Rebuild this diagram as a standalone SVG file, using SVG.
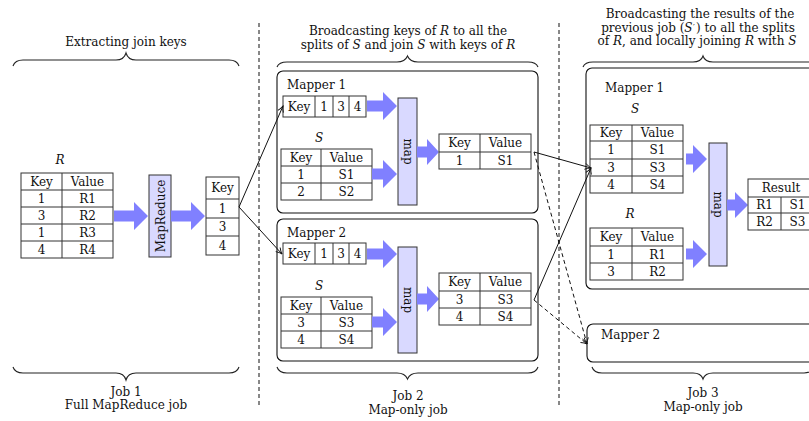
<svg xmlns="http://www.w3.org/2000/svg" width="809" height="421" viewBox="0 0 809 421">
<style>
text{font-family:"DejaVu Serif","Liberation Serif",serif;font-size:12px;fill:#111;}
.c{text-anchor:middle;}
.i{font-style:italic;}
.cell{fill:#fff;stroke:#333;stroke-width:1;}
.ln{stroke:#333;stroke-width:1;fill:none;}
.mapbox{fill:#d9d9ff;stroke:#333;stroke-width:1;}
.fat{fill:#8080ff;}
.brace{fill:none;stroke:#222;stroke-width:1.1;}
.mapper{fill:#fff;stroke:#111;stroke-width:1.1;}
.sep{stroke:#111;stroke-width:1;stroke-dasharray:4 3;fill:none;}
.con{stroke:#111;stroke-width:1;fill:none;}
.dcon{stroke:#111;stroke-width:1;fill:none;stroke-dasharray:4 3;}
</style>
<defs>
<marker id="ah" markerWidth="8" markerHeight="8" refX="7" refY="4" orient="auto" markerUnits="userSpaceOnUse">
<path d="M1,1 Q4,3.2 7,4 Q4,4.8 1,7" fill="none" stroke="#111" stroke-width="0.9"/>
</marker>
</defs>

<!-- separators -->
<g id="separators">
<line class="sep" x1="259" y1="23" x2="259" y2="407"/>
<line class="sep" x1="559" y1="23" x2="559" y2="405"/>
</g>

<!-- Job 1 -->
<g id="job1-header">
<text class="c" x="126" y="46">Extracting join keys</text>
<path class="brace" d="M13,66 Q15,60 23,60 L116,60 Q124,60 126,53 Q128,60 136,60 L229,60 Q237,60 239,66"/>
</g>
<g id="job1-R">
<text class="c i" x="60" y="164">R</text>
<rect class="cell" x="21" y="173" width="92" height="85"/>
<path class="ln" d="M62,173V258M21,190H113M21,207H113M21,224H113M21,241H113"/>
<text class="c" x="41.5" y="186">Key</text><text class="c" x="87.5" y="186">Value</text>
<text class="c" x="41.5" y="203">1</text><text class="c" x="87.5" y="203">R1</text>
<text class="c" x="41.5" y="220">3</text><text class="c" x="87.5" y="220">R2</text>
<text class="c" x="41.5" y="237">1</text><text class="c" x="87.5" y="237">R3</text>
<text class="c" x="41.5" y="254">4</text><text class="c" x="87.5" y="254">R4</text>
</g>
<g id="job1-mapreduce">
<polygon class="fat" points="114,210.5 134,210.5 134,202 148,216 134,230 134,221.5 114,221.5"/>
<rect class="mapbox" x="149" y="175" width="22" height="82"/>
<text class="c" transform="translate(164.5,216) rotate(-90)">MapReduce</text>
<polygon class="fat" points="171,210.5 191,210.5 191,202 205,216 191,230 191,221.5 171,221.5"/>
</g>
<g id="job1-keys">
<rect class="cell" x="206" y="177" width="33" height="78"/>
<path class="ln" d="M206,199H239M206,218H239M206,236H239"/>
<text class="c" x="222.5" y="192">Key</text>
<text class="c" x="222.5" y="213">1</text>
<text class="c" x="222.5" y="231">3</text>
<text class="c" x="222.5" y="250">4</text>
</g>
<g id="job1-footer">
<path class="brace" d="M13,367 Q15,373 23,373 L116,373 Q124,373 126,380 Q128,373 136,373 L229,373 Q237,373 239,367"/>
<text class="c" x="126" y="396">Job 1</text>
<text class="c" x="126" y="409">Full MapReduce job</text>
</g>

<!-- Job 2 -->
<g id="job2-header">
<text class="c" x="408" y="35">Broadcasting keys of <tspan class="i">R</tspan> to all the</text>
<text class="c" x="408" y="49">splits of <tspan class="i">S</tspan> and join <tspan class="i">S</tspan> with keys of <tspan class="i">R</tspan></text>
<path class="brace" d="M277,67 Q279,62 287,62 L397,62 Q405,62 407.5,56 Q410,62 418,62 L528,62 Q536,62 538,67"/>
</g>
<g id="job2-mapper1">
<rect class="mapper" x="277" y="71" width="261" height="142" rx="6"/>
<text x="287" y="89">Mapper 1</text>
<rect class="cell" x="283" y="96" width="83" height="21"/>
<path class="ln" d="M315,96V117M333,96V117M349,96V117"/>
<text class="c" x="299" y="111">Key</text><text class="c" x="324" y="111">1</text><text class="c" x="341" y="111">3</text><text class="c" x="357.5" y="111">4</text>
<polygon class="fat" points="367,100.5 383,100.5 383,92 397,106 383,120 383,111.5 367,111.5"/>
<text class="c i" x="319" y="142">S</text>
<rect class="cell" x="281" y="149" width="91" height="51"/>
<path class="ln" d="M321,149V200M281,166H372M281,183H372"/>
<text class="c" x="301" y="162">Key</text><text class="c" x="346.5" y="162">Value</text>
<text class="c" x="301" y="179">1</text><text class="c" x="346.5" y="179">S1</text>
<text class="c" x="301" y="196">2</text><text class="c" x="346.5" y="196">S2</text>
<polygon class="fat" points="372,168.5 383,168.5 383,160 397,174 383,188 383,179.5 372,179.5"/>
<rect class="mapbox" x="398" y="98" width="19" height="107"/>
<text class="c" transform="translate(403.5,151.5) rotate(90)">map</text>
<polygon class="fat" points="417,146.5 427,146.5 427,139 439,152 427,165 427,157.5 417,157.5"/>
<rect class="cell" x="439" y="134" width="92" height="35"/>
<path class="ln" d="M480,134V169M439,152H531"/>
<text class="c" x="459.5" y="147">Key</text><text class="c" x="505.5" y="147">Value</text>
<text class="c" x="459.5" y="165">1</text><text class="c" x="505.5" y="165">S1</text>
</g>
<g id="job2-mapper2">
<rect class="mapper" x="277" y="219" width="261" height="142" rx="6"/>
<text x="287" y="237">Mapper 2</text>
<rect class="cell" x="283" y="243" width="83" height="21"/>
<path class="ln" d="M315,243V264M333,243V264M349,243V264"/>
<text class="c" x="299" y="258">Key</text><text class="c" x="324" y="258">1</text><text class="c" x="341" y="258">3</text><text class="c" x="357.5" y="258">4</text>
<polygon class="fat" points="367,248.5 383,248.5 383,240 397,254 383,268 383,259.5 367,259.5"/>
<text class="c i" x="319" y="290">S</text>
<rect class="cell" x="281" y="297" width="91" height="51"/>
<path class="ln" d="M321,297V348M281,314H372M281,331H372"/>
<text class="c" x="301" y="310">Key</text><text class="c" x="346.5" y="310">Value</text>
<text class="c" x="301" y="327">3</text><text class="c" x="346.5" y="327">S3</text>
<text class="c" x="301" y="344">4</text><text class="c" x="346.5" y="344">S4</text>
<polygon class="fat" points="372,316.5 383,316.5 383,308 397,322 383,336 383,327.5 372,327.5"/>
<rect class="mapbox" x="398" y="247" width="19" height="106"/>
<text class="c" transform="translate(403.5,300) rotate(90)">map</text>
<polygon class="fat" points="417,293.5 427,293.5 427,286 439,299 427,312 427,304.5 417,304.5"/>
<rect class="cell" x="439" y="273" width="92" height="52"/>
<path class="ln" d="M480,273V325M439,291H531M439,308H531"/>
<text class="c" x="459.5" y="286">Key</text><text class="c" x="505.5" y="286">Value</text>
<text class="c" x="459.5" y="304">3</text><text class="c" x="505.5" y="304">S3</text>
<text class="c" x="459.5" y="321">4</text><text class="c" x="505.5" y="321">S4</text>
</g>
<g id="job2-footer">
<path class="brace" d="M277,367 Q279,373 287,373 L397,373 Q405,373 407.5,379 Q410,373 418,373 L528,373 Q536,373 538,367"/>
<text class="c" x="408" y="400">Job 2</text>
<text class="c" x="408" y="414">Map-only job</text>
</g>

<!-- Job 3 -->
<g id="job3-header">
<text class="c" x="700" y="18">Broadcasting the results of the</text>
<text class="c" x="698" y="32">previous job (<tspan class="i">S</tspan><tspan dx="0.5" dy="-3.5" font-size="8">′</tspan><tspan dx="1" dy="3.5">) to all the splits</tspan></text>
<text class="c" x="697" y="45">of <tspan class="i">R</tspan>, and locally joining <tspan class="i">R</tspan> with <tspan class="i">S</tspan></text>
<path class="brace" d="M583,67 Q585,62 593,62 L693,62 Q701,62 703,56 Q705,62 713,62 L813,62 Q821,62 823,67"/>
</g>
<g id="job3-mapper1">
<rect class="mapper" x="586" y="68" width="250" height="221" rx="6"/>
<text x="605" y="92">Mapper 1</text>
<text class="c i" x="635" y="113">S</text>
<rect class="cell" x="590" y="125" width="93" height="68"/>
<path class="ln" d="M632,125V193M590,141H683M590,159H683M590,176H683"/>
<text class="c" x="611" y="137">Key</text><text class="c" x="657.5" y="137">Value</text>
<text class="c" x="611" y="154">1</text><text class="c" x="657.5" y="154">S1</text>
<text class="c" x="611" y="172">3</text><text class="c" x="657.5" y="172">S3</text>
<text class="c" x="611" y="189">4</text><text class="c" x="657.5" y="189">S4</text>
<polygon class="fat" points="686,153.5 693,153.5 693,145 707,159 693,173 693,164.5 686,164.5"/>
<text class="c i" x="630" y="218">R</text>
<rect class="cell" x="590" y="228" width="93" height="52"/>
<path class="ln" d="M632,228V280M590,246H683M590,263H683"/>
<text class="c" x="611" y="241">Key</text><text class="c" x="657.5" y="241">Value</text>
<text class="c" x="611" y="259">1</text><text class="c" x="657.5" y="259">R1</text>
<text class="c" x="611" y="276">3</text><text class="c" x="657.5" y="276">R2</text>
<polygon class="fat" points="686,248.5 693,248.5 693,240 707,254 693,268 693,259.5 686,259.5"/>
<rect class="mapbox" x="709" y="143" width="18" height="123"/>
<text class="c" transform="translate(714,204.5) rotate(90)">map</text>
<polygon class="fat" points="727,199.5 735,199.5 735,192 748,205 735,218 735,210.5 727,210.5"/>
<rect class="cell" x="748" y="179" width="66" height="51"/>
<path class="ln" d="M748,197H814M748,213H814M781,197V230"/>
<text class="c" x="781" y="192">Result</text>
<text class="c" x="764.5" y="209">R1</text><text class="c" x="797.5" y="209">S1</text>
<text class="c" x="764.5" y="226">R2</text><text class="c" x="797.5" y="226">S3</text>
</g>
<g id="job3-mapper2">
<rect class="mapper" x="587" y="324" width="250" height="38" rx="6"/>
<text x="601" y="339">Mapper 2</text>
</g>
<g id="job3-footer">
<path class="brace" d="M592,367 Q594,373 602,373 L693,373 Q701,373 703,379 Q705,373 713,373 L804,373 Q812,373 814,367"/>
<text class="c" x="703" y="397">Job 3</text>
<text class="c" x="703" y="411">Map-only job</text>
</g>

<!-- connectors -->
<g id="connectors">
<line class="con" x1="239" y1="207" x2="283" y2="106" marker-end="url(#ah)"/>
<line class="con" x1="239" y1="207" x2="282" y2="254" marker-end="url(#ah)"/>
<line class="con" x1="534" y1="152" x2="591" y2="168" marker-end="url(#ah)"/>
<line class="con" x1="534" y1="300" x2="591" y2="168" marker-end="url(#ah)"/>
<line class="dcon" x1="534" y1="152" x2="587" y2="344" marker-end="url(#ah)"/>
<line class="dcon" x1="534" y1="300" x2="587" y2="344" marker-end="url(#ah)"/>
</g>
</svg>
